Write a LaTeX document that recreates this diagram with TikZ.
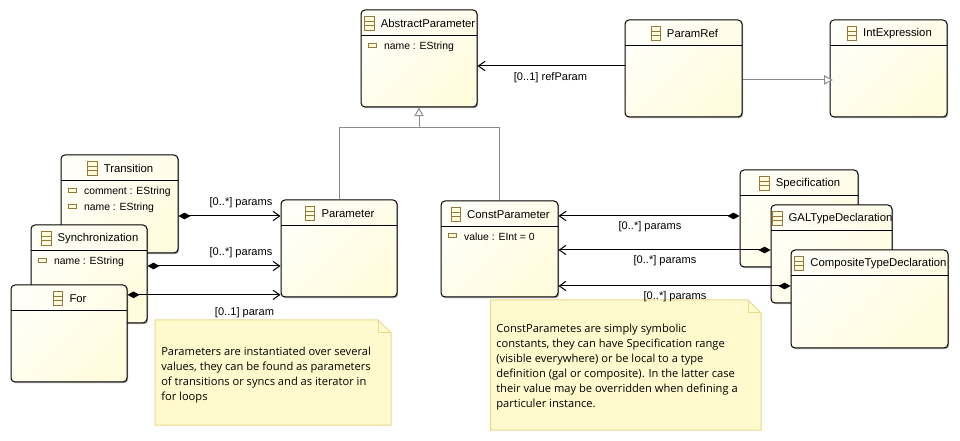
\documentclass[tikz,border=0pt]{standalone}
\usepackage{fontspec}
\setmainfont{Liberation Sans}
\newfontfamily\notefont{Open Sans}
\usetikzlibrary{arrows.meta, positioning, calc, shadows}
\definecolor{classlight}{RGB}{255, 255, 248}
\definecolor{classdark}{RGB}{255, 252, 222}
\definecolor{iconbrown}{RGB}{150, 120, 60}
\definecolor{notefill}{RGB}{255, 250, 205}
\definecolor{noteline}{RGB}{230, 218, 140}
\definecolor{inheritgray}{RGB}{140, 140, 140}
\tikzset{
  classbox/.style={draw=black, line width=0.75pt, rounded corners=3pt, inner sep=0pt,
    top color=classlight, bottom color=classdark, shading angle=45,
    drop shadow={shadow xshift=0.9pt, shadow yshift=-0.9pt, fill=black, opacity=0.35}},
  classtitle/.style={font=\fontsize{8.5}{10}\selectfont, inner sep=0pt},
  classicon/.style={draw=iconbrown, fill=classdark, line width=0.6pt, minimum width=7pt, minimum height=10.5pt, inner sep=0pt,
    path picture={\draw[iconbrown, line width=0.6pt] ([yshift=-3.5pt]path picture bounding box.north west) -- ([yshift=-3.5pt]path picture bounding box.north east)
      ([yshift=3.5pt]path picture bounding box.south west) -- ([yshift=3.5pt]path picture bounding box.south east);}},
  attricon/.style={draw=iconbrown, fill=classdark, line width=0.6pt, minimum width=6.5pt, minimum height=3.5pt, inner sep=0pt},
  attrtext/.style={font=\fontsize{7.8}{10}\selectfont, inner sep=0pt, anchor=west},
  assoc/.style={draw=black, line width=0.75pt, {Diamond[length=9pt, width=5pt]}-{Straight Barb[length=5pt, width=7pt]}},
  refline/.style={draw=black, line width=0.75pt, -{Straight Barb[length=5pt, width=7pt]}},
  inherit/.style={draw=inheritgray, line width=0.75pt, -{Triangle[open, length=6.5pt, width=7pt, fill=white]}},
  inheritplain/.style={draw=inheritgray, line width=0.75pt},
  linklabel/.style={font=\fontsize{8.3}{10}\selectfont, inner sep=0pt},
  notebox/.style={draw=noteline, fill=notefill, line width=0.75pt},
  notetext/.style={font=\notefont\fontsize{8.35}{11.25}\selectfont, inner sep=0pt, anchor=north west, align=left}
}
\newcommand{\umlclass}[6]{%
  \node[classbox, minimum width={(#4-#2)*0.75pt}, minimum height={(#5-#3)*0.75pt}] (#1) at ({(#2+#4)/2},{(#3+#5)/2}) {};
  \draw[line width=0.75pt] (#2,#3+26) -- (#4,#3+26);
  \node[classtitle] (#1 title) at ({(#2+#4)/2+9},#3+13.5) {#6};
  \node[classicon, left=4.5pt of #1 title] (#1 icon) {};
}
\newcommand{\umlattr}[3]{%
  \node[attricon] (#1 icon#2) at ([xshift=9pt, yshift=-#2*0.75pt]#1.north west) {};
  \node[attrtext] (#1 attr#2) at ([xshift=17.5pt, yshift=-#2*0.75pt-1pt]#1.north west) {#3};
}
\begin{document}
\begin{tikzpicture}[x=0.75pt, y=-0.75pt]
  \useasboundingbox (0,0) rectangle (960,441);
  \fill[white] (0,0) rectangle (960,441);

  \umlclass{abstractparam}{361}{10}{477}{107}{AbstractParameter}
  \umlattr{abstractparam}{36}{name : EString}
  \umlclass{paramref}{625}{20}{742}{117}{ParamRef}
  \umlclass{intexpr}{830}{20}{947}{117}{IntExpression}
  \umlclass{parameter}{281}{200}{397}{297}{Parameter}
  \umlclass{constparam}{441}{201}{558}{297}{ConstParameter}
  \umlattr{constparam}{35}{value : EInt = 0}

  \umlclass{transition}{61}{155}{178}{253}{Transition}
  \umlattr{transition}{36}{comment : EString}
  \umlattr{transition}{52}{name : EString}
  \umlclass{sync}{31}{225}{147}{323}{Synchronization}
  \umlattr{sync}{36}{name : EString}
  \umlclass{forloop}{11}{285}{127}{382}{For}

  \umlclass{spec}{740}{170}{858}{267}{Specification}
  \umlclass{galtype}{771}{205}{892}{303}{GALTypeDeclaration}
  \umlclass{comptype}{791}{250}{948}{348}{CompositeTypeDeclaration}

  \draw[notebox] (155,320) -- (378,320) -- (391,333) -- (391,425) -- (155,425) -- cycle;
  \draw[notebox, fill=none] (378,320) -- (378,333) -- (391,333);
  \node[notetext] (paramnote) at (161,347) {Parameters are instantiated over several\\values, they can be found as parameters\\of transitions or syncs and as iterator in\\for loops};

  \draw[notebox] (490.5,300) -- (748,300) -- (761,313) -- (761,430) -- (490.5,430) -- cycle;
  \draw[notebox, fill=none] (748,300) -- (748,313) -- (761,313);
  \node[notetext] (constnote) at (496,324) {ConstParametes are simply symbolic\\constants, they can have Specification range\\(visible everywhere) or be local to a type\\definition (gal or composite). In the latter case\\their value may be overridden when defining a\\particuler instance.};

  \coordinate (transition out) at ([yshift=-9pt]transition.east);
  \coordinate (sync out) at ([yshift=6pt]sync.east);
  \coordinate (for out) at ([yshift=29pt]forloop.east);
  \coordinate (spec out) at ([yshift=1.9pt]spec.west);
  \coordinate (gal out) at ([yshift=3pt]galtype.west);
  \coordinate (comp out) at ([yshift=9.75pt]comptype.west);
  \coordinate (ref out) at ([yshift=1.9pt]paramref.west);
  \coordinate (intexpr in) at ([xshift=2.5pt, yshift=-8.6pt]intexpr.west);
  \coordinate (gen join) at ([yshift=-15pt]abstractparam.south);

  \draw[assoc] (transition out) -- (transition out -| parameter.west);
  \draw[assoc] (sync out) -- (sync out -| parameter.west);
  \draw[assoc] (for out) -- (for out -| parameter.west);
  \draw[assoc] (spec out) -- (spec out -| constparam.east);
  \draw[assoc] (gal out) -- (gal out -| constparam.east);
  \draw[assoc] (comp out) -- (comp out -| constparam.east);
  \draw[refline] (ref out) -- (ref out -| abstractparam.east);
  \draw[inherit] (intexpr in -| paramref.east) -- (intexpr in);
  \draw[inherit] (gen join) -- (abstractparam.south);
  \draw[inheritplain] (parameter.north) |- (gen join) -| (constparam.north);

  \node[linklabel] (refparam label) at (550.5,78) {[0..1] refParam};
  \node[linklabel] (transition label) at (241,203) {[0..*] params};
  \node[linklabel] (sync label) at (241,253) {[0..*] params};
  \node[linklabel] (for label) at (244.5,313) {[0..1] param};
  \node[linklabel] (spec label) at (650,227) {[0..*] params};
  \node[linklabel] (gal label) at (665,261) {[0..*] params};
  \node[linklabel] (comp label) at (675,297) {[0..*] params};
\end{tikzpicture}
\end{document}
